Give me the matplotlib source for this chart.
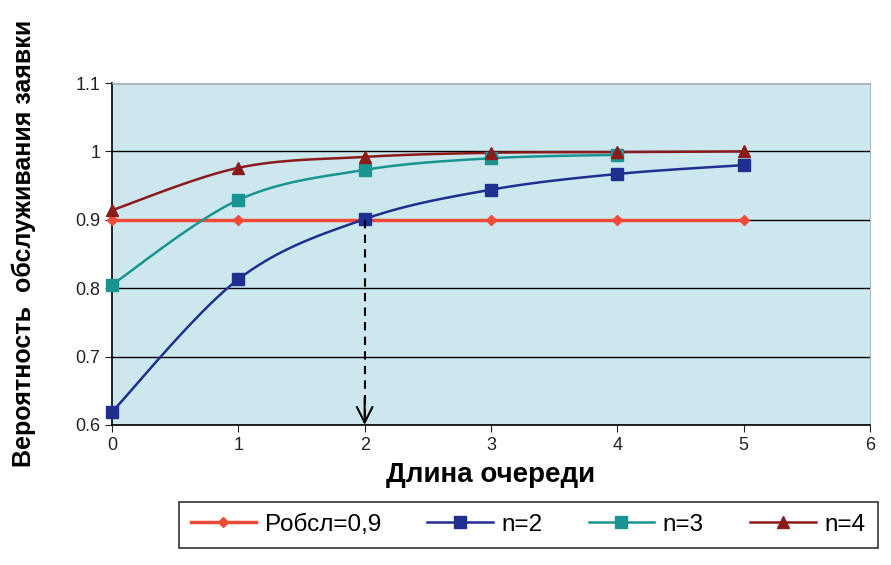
import numpy as np
import matplotlib.pyplot as plt

plt.rcParams['font.family'] = ['Liberation Sans', 'DejaVu Sans']

# длина очереди
x = [0, 1, 2, 3, 4, 5]
p_obsl = [0.9, 0.9, 0.9, 0.9, 0.9, 0.9]
n2 = [0.619, 0.813, 0.901, 0.944, 0.967, 0.980]
n3 = [0.805, 0.929, 0.973, 0.990, 0.995]
n4 = [0.914, 0.976, 0.992, 0.998, 0.999, 1.000]
legenda = ['Робсл=0,9', 'n=2', 'n=3', 'n=4']


# сглаживание как в Excel (Catmull-Rom)
def suave(xs, ys, k=20):
    xs = np.asarray(xs, float)
    ys = np.asarray(ys, float)
    px = np.concatenate([[xs[0]], xs, [xs[-1]]])
    py = np.concatenate([[ys[0]], ys, [ys[-1]]])
    ox, oy = [], []
    t = np.linspace(0, 1, k)
    for i in range(1, len(px) - 2):
        for p, o in ((px, ox), (py, oy)):
            p0, p1, p2, p3 = p[i - 1], p[i], p[i + 1], p[i + 2]
            c = 0.5 * ((2 * p1) + (-p0 + p2) * t + (2 * p0 - 5 * p1 + 4 * p2 - p3) * t ** 2
                       + (-p0 + 3 * p1 - 3 * p2 + p3) * t ** 3)
            o.extend(c)
    return ox, oy


fig = plt.figure(figsize=(8.91, 5.65), dpi=100)
ax = fig.add_axes([0.1257, 0.248, 0.8507, 0.605])
ax.set_facecolor('#cde7ef')

series = [
    (p_obsl, '#f04a38', 'D', 5),
    (n2, '#1f2f8f', 's', 8),
    (n3, '#1a9490', 's', 8),
    (n4, '#8b1a1a', '^', 8),
]
handles = []
for (ys, cor, mk, ms), lab in zip(series, legenda):
    xs = x[:len(ys)]
    sx, sy = suave(xs, ys)
    lw = 2.5 if mk == 'D' else 1.8
    ax.plot(sx, sy, color=cor, lw=lw, zorder=3, clip_on=False)
    ax.plot(xs, ys, ls='none', marker=mk, ms=ms, color=cor, zorder=4, clip_on=False)
    h, = ax.plot([], [], color=cor, lw=lw, marker=mk, ms=ms)
    handles.append(h)

# пунктирная стрелка от n=2 при 0.9 к оси
ax.plot([2, 2], [0.9, 0.605], color='black', lw=1.5, ls=(0, (4, 3)), zorder=5)
ax.annotate('', xy=(2, 0.6), xytext=(2, 0.64),
            arrowprops=dict(arrowstyle='->', color='black', lw=1.5,
                            mutation_scale=28, shrinkA=0, shrinkB=0), zorder=5)

ax.set_xlim(0, 6)
ax.set_ylim(0.6, 1.1)
ax.set_xticks(range(7))
ax.set_yticks([0.6, 0.7, 0.8, 0.9, 1.0, 1.1])
ax.set_yticklabels(['0.6', '0.7', '0.8', '0.9', '1', '1.1'])
ax.yaxis.grid(True, color='black', lw=1)
ax.set_axisbelow(True)
ax.tick_params(labelsize=13, direction='out', length=5, colors='#222222')
for s in ['top', 'right']:
    ax.spines[s].set_color('#b0b8bc')
for s in ['left', 'bottom']:
    ax.spines[s].set_color('black')
    ax.spines[s].set_linewidth(1.2)

ax.set_xlabel('Длина очереди', fontsize=20, fontweight='bold', labelpad=6)
ax.set_ylabel('Вероятность  обслуживания заявки', fontsize=18, fontweight='bold')
ax.yaxis.set_label_coords(-0.1, 0.53)

leg = fig.legend(handles=handles, labels=legenda, loc='center',
                 bbox_to_anchor=(0.5926, 0.071), ncol=4, fontsize=17.5,
                 frameon=True, fancybox=False, edgecolor='black',
                 handlelength=2.7, handletextpad=0.35, columnspacing=1.9,
                 borderpad=0.5)
leg.get_frame().set_linewidth(1.2)

fig.savefig('out.png', dpi=100)
